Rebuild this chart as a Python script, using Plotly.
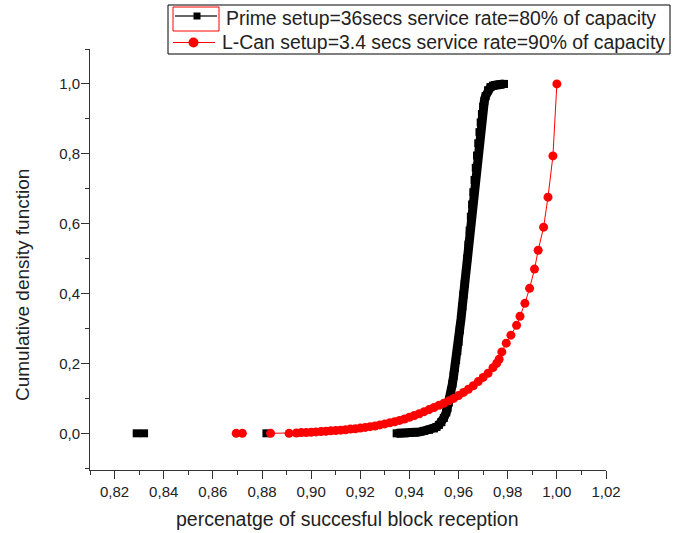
import plotly.graph_objects as go

# ---- Data ----
prime_x = [0.9348, 0.936, 0.938, 0.940, 0.942, 0.944, 0.946, 0.948, 0.950, 0.951,
           0.952, 0.953, 0.954, 0.955, 0.9555, 0.956, 0.9565, 0.957, 0.9575, 0.958,
           0.9585, 0.959, 0.9595, 0.960, 0.9605, 0.961, 0.9615, 0.962, 0.9625, 0.963,
           0.9635, 0.964, 0.9645, 0.965, 0.9655, 0.966, 0.9665, 0.967, 0.9675, 0.968,
           0.9685, 0.969, 0.9695, 0.970, 0.9705, 0.971, 0.972, 0.973, 0.974, 0.975,
           0.976, 0.977, 0.978, 0.9785]
prime_y = [0.0, 0.0, 0.0, 0.001, 0.002, 0.004, 0.007, 0.010, 0.014, 0.018,
           0.024, 0.032, 0.044, 0.060, 0.072, 0.088, 0.104, 0.122, 0.142, 0.165,
           0.187, 0.210, 0.235, 0.262, 0.295, 0.328, 0.362, 0.397, 0.428, 0.460,
           0.500, 0.540, 0.580, 0.620, 0.655, 0.690, 0.725, 0.760, 0.795, 0.830,
           0.862, 0.890, 0.914, 0.935, 0.952, 0.965, 0.982, 0.991, 0.995, 0.997,
           0.998, 0.999, 1.0, 1.0]

prime_out_x = [0.829, 0.832, 0.8818]
prime_out_y = [0.0, 0.0, 0.0]

lcan_x = [0.8835, 0.891, 0.894, 0.896, 0.898, 0.900, 0.902, 0.904, 0.906, 0.908,
          0.910, 0.912, 0.914, 0.916, 0.918, 0.920, 0.922, 0.924, 0.926, 0.928,
          0.930, 0.932, 0.934, 0.936, 0.938, 0.940, 0.942, 0.944, 0.946, 0.948,
          0.950, 0.952, 0.954, 0.956, 0.958, 0.960, 0.962, 0.964, 0.966, 0.968,
          0.970, 0.972, 0.974, 0.9755, 0.9765, 0.9776, 0.9794, 0.9813, 0.9836, 0.985,
          0.987, 0.9889, 0.9909, 0.9924, 0.9946, 0.9964, 0.9984, 1.0]
lcan_y = [0.0, 0.0, 0.001, 0.002, 0.002, 0.003, 0.004, 0.005, 0.006, 0.007,
          0.008, 0.009, 0.010, 0.012, 0.013, 0.015, 0.017, 0.019, 0.021, 0.024,
          0.027, 0.030, 0.033, 0.037, 0.041, 0.046, 0.051, 0.056, 0.062, 0.068,
          0.074, 0.080, 0.086, 0.093, 0.100, 0.108, 0.117, 0.126, 0.136, 0.148,
          0.160, 0.172, 0.188, 0.200, 0.212, 0.233, 0.258, 0.281, 0.309, 0.335,
          0.372, 0.415, 0.470, 0.524, 0.590, 0.676, 0.794, 1.0]

lcan_out_x = [0.8695, 0.8720]
lcan_out_y = [0.0, 0.0]

x_ticks = [0.82, 0.84, 0.86, 0.88, 0.90, 0.92, 0.94, 0.96, 0.98, 1.00, 1.02]
y_ticks = [0.0, 0.2, 0.4, 0.6, 0.8, 1.0]

name_prime = "Prime setup=36secs service rate=80% of capacity"
name_lcan = "L-Can setup=3.4 secs service rate=90% of capacity"
x_title = "percenatge of succesful block reception"
y_title = "Cumulative density function"

FONT = "Liberation Sans, Arial, sans-serif"
TXT = "#222"

# plot-area geometry in pixels (used only to place the hand-drawn legend/titles)
L, R, T, B = 90, 79, 49, 63
W, H = 685, 533
PW, PH = W - L - R, H - T - B


def px(xp):
    return (xp - L) / PW


def py(yp):
    return (H - B - yp) / PH


fig = go.Figure()

# thick underlay giving the dense black curve look
fig.add_trace(go.Scatter(x=prime_x, y=prime_y, mode="lines",
                         line=dict(color="black", width=9),
                         showlegend=False, hoverinfo="skip"))
fig.add_trace(go.Scatter(x=prime_x, y=prime_y, mode="lines+markers", name=name_prime,
                         line=dict(color="black", width=1),
                         marker=dict(symbol="square", size=8, color="black"), showlegend=False))
fig.add_trace(go.Scatter(x=prime_out_x, y=prime_out_y, mode="markers", showlegend=False,
                         marker=dict(symbol="square", size=8, color="black")))

fig.add_trace(go.Scatter(x=lcan_x, y=lcan_y, mode="lines+markers", name=name_lcan,
                         line=dict(color="red", width=1),
                         marker=dict(symbol="circle", size=9, color="red"), showlegend=False))
fig.add_trace(go.Scatter(x=lcan_out_x, y=lcan_out_y, mode="markers", showlegend=False,
                         marker=dict(symbol="circle", size=9, color="red")))

fig.update_layout(
    width=W, height=H,
    margin=dict(l=L, r=R, t=T, b=B, autoexpand=False),
    paper_bgcolor="white", plot_bgcolor="white",
    separators=",.",
    font=dict(family=FONT, color=TXT),
    showlegend=False,
    xaxis=dict(range=[0.81, 1.02], tickvals=x_ticks, tickformat=".2f",
               showgrid=False, zeroline=False, showline=True, linecolor="#333", linewidth=1,
               ticks="outside", ticklen=8, tickcolor="#333",
               minor=dict(dtick=0.01, tick0=0.81, ticks="outside", ticklen=4, tickcolor="#333", showgrid=False),
               tickfont=dict(size=15, family=FONT, color=TXT)),
    yaxis=dict(range=[-0.105, 1.1], tickvals=y_ticks, tickformat=".1f",
               showgrid=False, zeroline=False, showline=True, linecolor="#333", linewidth=1,
               ticks="outside", ticklen=8, tickcolor="#333", ticklabelstandoff=-2,
               minor=dict(dtick=0.1, tick0=-0.1, ticks="outside", ticklen=4, tickcolor="#333", showgrid=False),
               tickfont=dict(size=15, family=FONT, color=TXT)),
)

# axis titles
fig.add_annotation(text=x_title, xref="paper", yref="paper", x=px(347), y=py(519),
                   xanchor="center", yanchor="middle", showarrow=False,
                   font=dict(size=19.5, family=FONT, color=TXT))
fig.add_annotation(text=y_title, xref="paper", yref="paper", x=px(22), y=py(285),
                   xanchor="center", yanchor="middle", showarrow=False, textangle=-90,
                   font=dict(size=19, family=FONT, color=TXT))

# ---- legend (drawn by hand to match the reference box) ----
fig.add_shape(type="rect", xref="paper", yref="paper",
              x0=px(168), x1=px(670), y0=py(54), y1=py(5),
              line=dict(color="black", width=1), fillcolor="white", layer="above")
# red selection frame around the first sample
fig.add_shape(type="rect", xref="paper", yref="paper",
              x0=px(173), x1=px(219), y0=py(31), y1=py(7),
              line=dict(color="red", width=1), fillcolor="rgba(0,0,0,0)", layer="above")
# row 1: black line + square
fig.add_shape(type="line", xref="paper", yref="paper",
              x0=px(175), x1=px(217), y0=py(16), y1=py(16),
              line=dict(color="#333", width=1.5), layer="above")
fig.add_shape(type="rect", xref="paper", yref="paper", xsizemode="pixel", ysizemode="pixel",
              xanchor=px(197), yanchor=py(16), x0=-3.5, x1=3.5, y0=-3.5, y1=3.5,
              line=dict(color="black", width=0), fillcolor="black", layer="above")
# row 2: red line + circle
fig.add_shape(type="line", xref="paper", yref="paper",
              x0=px(173), x1=px(215), y0=py(42.5), y1=py(42.5),
              line=dict(color="red", width=1.2), layer="above")
fig.add_shape(type="circle", xref="paper", yref="paper", xsizemode="pixel", ysizemode="pixel",
              xanchor=px(193.5), yanchor=py(42.5), x0=-5, x1=5, y0=-5, y1=5,
              line=dict(color="red", width=0), fillcolor="red", layer="above")
fig.add_annotation(text=name_prime, xref="paper", yref="paper", x=px(224), y=py(18),
                   xanchor="left", yanchor="middle", showarrow=False,
                   font=dict(size=19.4, family=FONT, color=TXT))
fig.add_annotation(text=name_lcan, xref="paper", yref="paper", x=px(220), y=py(42),
                   xanchor="left", yanchor="middle", showarrow=False,
                   font=dict(size=19.4, family=FONT, color=TXT))

fig.write_html("out.html")
